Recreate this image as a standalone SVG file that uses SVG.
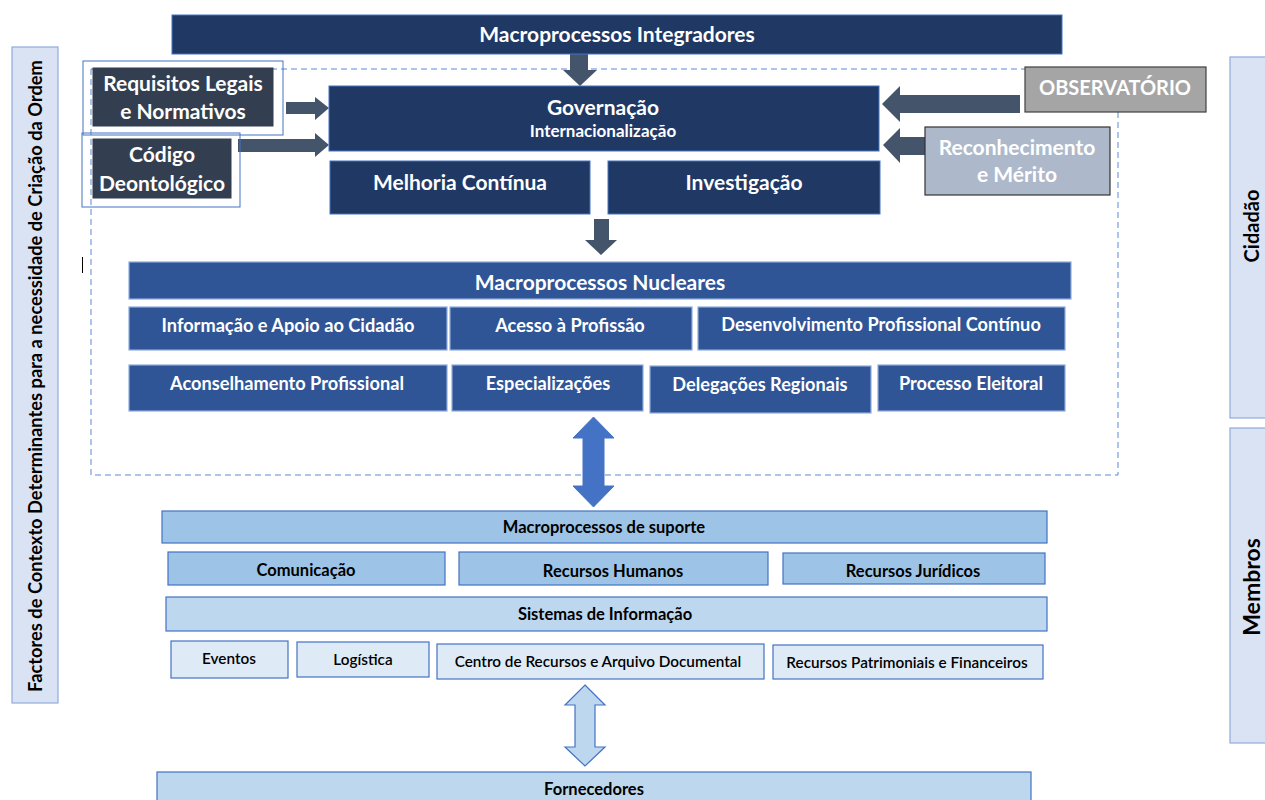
<svg xmlns="http://www.w3.org/2000/svg" width="1265" height="800" viewBox="0 0 1265 800">
<style>
text{font-family:Lato,"Open Sans","Liberation Sans",sans-serif;font-weight:bold;text-anchor:middle;dominant-baseline:central}
.w{fill:#fff}
.k{fill:#000}
.navy{fill:#203864;stroke:#4472c4;stroke-width:1}
.dark{fill:#333f50;stroke:#333f50}
.nuc{fill:#2f5597;stroke:#8faadc;stroke-width:1.2}
.sup1{fill:#9dc3e6;stroke:#4472c4;stroke-width:1.2}
.sup2{fill:#bdd7ee;stroke:#4472c4;stroke-width:1.2}
.sup3{fill:#deebf7;stroke:#4472c4;stroke-width:1.2}
.side{fill:#dae3f3;stroke:#8faadc;stroke-width:1.2}
.outl{fill:none;stroke:#4472c4;stroke-width:1}
.arr{fill:#44546a}
.t18{font-size:21px}
.t16{font-size:18.2px}
.t14{font-size:16.5px}
.t13{font-size:15.3px;font-weight:600}
</style>
<rect width="1265" height="800" fill="#fff"/>

<g id="frame">
<rect x="91" y="69" width="1027" height="406" fill="none" stroke="#5b87d6" stroke-width="1" stroke-dasharray="6,4"/>
<line x1="82.5" y1="257" x2="82.5" y2="273" stroke="#000" stroke-width="1"/>
</g>

<g id="contexto">
<rect class="side" x="12" y="47" width="46" height="656"/>
<text class="k" style="font-size:18.3px" transform="translate(35,376) rotate(-90)">Factores de Contexto Determinantes para a necessidade de Criação da Ordem</text>
</g>

<g id="cidadao">
<rect class="side" x="1230" y="57" width="40" height="361"/>
<text class="k" style="font-size:20px" transform="translate(1251,226) rotate(-90)">Cidadão</text>
</g>
<g id="membros">
<rect class="side" x="1230" y="428" width="40" height="315"/>
<text class="k" style="font-size:23px" transform="translate(1251,587) rotate(-90)">Membros</text>
</g>

<g id="connectors">
<polygon class="arr" points="570,54 588,54 588,70 597,70 580,86 563,70 570,70"/>
<polygon class="arr" points="286,102 315,102 315,97 329,108 315,120 315,114 286,114"/>
<polygon class="arr" points="238,139 315,139 315,133 329,145 315,157 315,152 238,152"/>
<polygon class="arr" points="1020,95 900,95 900,86 882,104 900,122 900,113 1020,113"/>
<polygon class="arr" points="925,137 900,137 900,128 883,145 900,163 900,155 925,155"/>
<polygon class="arr" points="594,219 609,219 609,240 617,240 601,255 585,240 594,240"/>
<polygon fill="#4472c4" stroke="#4472c4" stroke-width="1" points="593.5,417 614,438 604,438 604,486 614,486 593.5,507 573,486 583,486 583,438 573,438"/>
<polygon fill="#bdd7ee" stroke="#4472c4" stroke-width="1.2" points="585,685 605,705 595,705 595,747 605,747 585,766 565,747 575,747 575,705 565,705"/>
</g>

<g id="integradores">
<rect class="navy" x="172" y="15" width="890" height="39"/>
<text class="w t18" x="617" y="33.5">Macroprocessos Integradores</text>
</g>

<g id="requisitos">
<rect class="outl" x="83" y="61" width="200" height="74"/>
<rect class="dark" x="93" y="68" width="180" height="58"/>
<text class="w t18" x="183" y="82.5">Requisitos Legais</text>
<text class="w t18" x="183" y="110.5">e Normativos</text>
</g>

<g id="codigo">
<rect class="outl" x="82" y="133" width="158" height="74"/>
<rect class="dark" x="93" y="139" width="138" height="59"/>
<text class="w t18" x="162" y="153.5">Código</text>
<text class="w t18" x="162" y="182.5">Deontológico</text>
</g>

<g id="governacao">
<rect class="navy" x="329" y="86" width="550" height="65"/>
<text class="w t18" x="603" y="106.5">Governação</text>
<text class="w" style="font-size:17px" x="603" y="130.5">Internacionalização</text>
</g>

<g id="melhoria">
<rect class="navy" x="330" y="161" width="260" height="53"/>
<text class="w t18" x="460" y="181.5">Melhoria Contínua</text>
</g>

<g id="investigacao">
<rect class="navy" x="608" y="161" width="272" height="53"/>
<text class="w t18" x="744" y="181.5">Investigação</text>
</g>

<g id="observatorio">
<rect x="1025" y="67" width="181" height="45" fill="#a5a5a5" stroke="#404040" stroke-width="1.2"/>
<text class="w" style="font-size:20px" x="1115" y="86.5">OBSERVATÓRIO</text>
</g>

<g id="reconhecimento">
<rect x="925" y="127" width="185" height="68" fill="#adb9ca" stroke="#333" stroke-width="1.2"/>
<text class="w t18" x="1017" y="146.5">Reconhecimento</text>
<text class="w t18" x="1017" y="173.5">e Mérito</text>
</g>

<g id="nucleares">
<rect class="nuc" x="129" y="262" width="942" height="37"/>
<text class="w t18" x="600" y="281.5">Macroprocessos Nucleares</text>
</g>
<g id="informacao">
<rect class="nuc" x="129" y="307" width="318" height="43"/>
<text class="w t16" x="288" y="324.5">Informação e Apoio ao Cidadão</text>
</g>
<g id="acesso">
<rect class="nuc" x="450" y="307" width="242" height="43"/>
<text class="w t16" x="570" y="324.5">Acesso à Profissão</text>
</g>
<g id="desenvolvimento">
<rect class="nuc" x="698" y="307" width="367" height="43"/>
<text class="w t16" x="881" y="323.5">Desenvolvimento Profissional Contínuo</text>
</g>
<g id="aconselhamento">
<rect class="nuc" x="129" y="365" width="318" height="46"/>
<text class="w t16" x="287" y="382.5">Aconselhamento Profissional</text>
</g>
<g id="especializacoes">
<rect class="nuc" x="452" y="365" width="191" height="46"/>
<text class="w t16" x="548" y="382.5">Especializações</text>
</g>
<g id="delegacoes">
<rect class="nuc" x="650" y="366" width="221" height="47"/>
<text class="w t16" x="760" y="383.5">Delegações Regionais</text>
</g>
<g id="eleitoral">
<rect class="nuc" x="878" y="365" width="187" height="46"/>
<text class="w t16" x="971" y="382.5">Processo Eleitoral</text>
</g>

<g id="suporte">
<rect class="sup1" x="162" y="511" width="885" height="32"/>
<text class="k t14" x="604" y="527">Macroprocessos de suporte</text>
</g>
<g id="comunicacao">
<rect class="sup1" x="168" y="552" width="277" height="33"/>
<text class="k t14" x="306" y="570">Comunicação</text>
</g>
<g id="rh">
<rect class="sup1" x="459" y="552" width="309" height="33"/>
<text class="k t14" x="613" y="571">Recursos Humanos</text>
</g>
<g id="juridicos">
<rect class="sup1" x="783" y="553" width="262" height="31"/>
<text class="k t14" x="913" y="571">Recursos Jurídicos</text>
</g>
<g id="sistemas">
<rect class="sup2" x="166" y="597" width="881" height="34"/>
<text class="k t14" x="605" y="614">Sistemas de Informação</text>
</g>
<g id="eventos">
<rect class="sup3" x="171" y="641" width="117" height="37"/>
<text class="k t13" x="229" y="658">Eventos</text>
</g>
<g id="logistica">
<rect class="sup3" x="297" y="642" width="132" height="35"/>
<text class="k t13" x="363" y="659">Logística</text>
</g>
<g id="centro">
<rect class="sup3" x="437" y="644" width="327" height="35"/>
<text class="k t13" x="598" y="661">Centro de Recursos e Arquivo Documental</text>
</g>
<g id="patrimoniais">
<rect class="sup3" x="773" y="645" width="270" height="34"/>
<text class="k t13" x="907" y="662">Recursos Patrimoniais e Financeiros</text>
</g>
<g id="fornecedores">
<rect class="sup2" x="157" y="772" width="874" height="40"/>
<text class="k t14" x="594" y="789">Fornecedores</text>
</g>
</svg>
